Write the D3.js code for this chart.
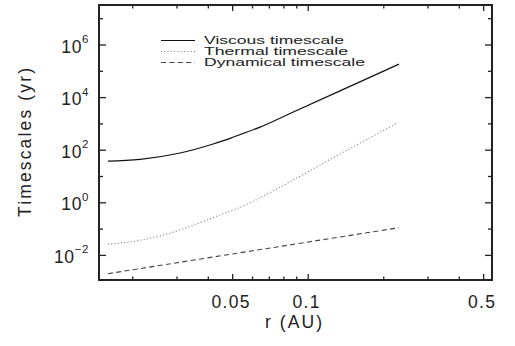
<!DOCTYPE html>
<html>
<head>
<meta charset="utf-8">
<script src="https://cdn.jsdelivr.net/npm/d3@7"></script>
<style>
  body { margin: 0; background: #fff; }
  svg { display: block; }
  text { font-family: "Liberation Sans", Arial, sans-serif; fill: #222; }
</style>
</head>
<body>
<div class="chart"></div>
<script>
// radius (AU) and timescales (yr)
const viscousR = [0.016, 0.0215, 0.031, 0.042, 0.05, 0.0646, 0.085, 0.1345, 0.231];
const viscousT = [37, 43, 75, 165, 290, 725, 2380, 17300, 1.8e5];

const thermalR = [0.016, 0.0215, 0.031, 0.0448, 0.0634, 0.1226, 0.229];
const thermalT = [0.0253, 0.0359, 0.0885, 0.329, 1.35, 42, 1070];

const dynamicalR = [0.016, 0.049, 0.231];
const dynamicalT = [0.00193, 0.0105, 0.108];

const xMajor = [0.05, 0.1, 0.5];
const xMinor = [0.02, 0.03, 0.04, 0.06, 0.07, 0.08, 0.09, 0.2, 0.3, 0.4];
const yMajor = [1e-2, 1e0, 1e2, 1e4, 1e6];
const yMinor = [1e-1, 1e1, 1e3, 1e5, 1e7];
const yLabelExp = ["\u22122", "0", "2", "4", "6"];

const legendNames = ["Viscous timescale", "Thermal timescale", "Dynamical timescale"];

// === Margin Convention ===
const margin = ({top: 5, right: 23, bottom: 66, left: 99});
const width = 515 - margin.left - margin.right,
      height = 346 - margin.top - margin.bottom;

const svg = d3.select(".chart").append("svg")
    .attr("width", 515)
    .attr("height", 346)
  .append("g")
    .attr("transform", `translate(${margin.left},${margin.top})`);

// === Scales ===
const xScale = d3.scaleLog()
    .domain([0.01474, 0.5423])
    .range([0, width]);

const yScale = d3.scaleLog()
    .domain([1.11e-3, 3.18e7])
    .range([height, 0]);

// === Ticks (all four sides, pointing in) ===
function ticks(axis, values, size, transform) {
    const g = svg.append("g")
        .attr("transform", transform)
        .call(axis.tickValues(values).tickSize(size).tickFormat(""));
    g.select(".domain").remove();
    g.selectAll("line").attr("stroke", "#222").attr("stroke-width", 1.3);
}

ticks(d3.axisBottom(xScale), xMajor, -6, `translate(0,${height})`);
ticks(d3.axisBottom(xScale), xMinor, -3.5, `translate(0,${height})`);
ticks(d3.axisTop(xScale), xMajor, -6, "translate(0,0)");
ticks(d3.axisTop(xScale), xMinor, -3.5, "translate(0,0)");
ticks(d3.axisLeft(yScale), yMajor, -7, "translate(0,0)");
ticks(d3.axisLeft(yScale), yMinor, -4, "translate(0,0)");
ticks(d3.axisRight(yScale), yMajor, -7, `translate(${width},0)`);
ticks(d3.axisRight(yScale), yMinor, -4, `translate(${width},0)`);

// frame
svg.append("rect")
    .attr("width", width)
    .attr("height", height)
    .attr("fill", "none")
    .attr("stroke", "#222")
    .attr("stroke-width", 2);

// x tick labels
svg.selectAll(".xlab")
    .data(xMajor)
    .join("text")
    .attr("class", "xlab")
    .attr("x", d => xScale(d) - 1)
    .attr("y", height + 28)
    .attr("text-anchor", "middle")
    .attr("font-size", "17.5px")
    .attr("letter-spacing", "1.3px")
    .text(d => d);

// y tick labels: 10^n
const ylab = svg.selectAll(".ylab")
    .data(yMajor)
    .join("text")
    .attr("class", "ylab")
    .attr("x", -10)
    .attr("y", d => yScale(d) + 8)
    .attr("text-anchor", "end")
    .attr("font-size", "17.5px")
    .attr("letter-spacing", "0.6px");
ylab.append("tspan").text("10");
ylab.append("tspan")
    .attr("dy", -9.5)
    .attr("font-size", "11.5px")
    .text((d, i) => yLabelExp[i]);

// axis titles
svg.append("text")
    .attr("x", width / 2 - 2)
    .attr("y", height + 48)
    .attr("text-anchor", "middle")
    .attr("font-size", "17.5px")
    .attr("textLength", 57)
    .attr("lengthAdjust", "spacing")
    .text("r  (AU)");

svg.append("text")
    .attr("transform", `translate(${31 - margin.left},${142.5 - margin.top}) rotate(-90)`)
    .attr("text-anchor", "middle")
    .attr("font-size", "17.5px")
    .attr("textLength", 149)
    .attr("lengthAdjust", "spacing")
    .text("Timescales  (yr)");

// === Curves ===
const line = d3.line()
    .x(d => xScale(d[0]))
    .y(d => yScale(d[1]))
    .curve(d3.curveNatural);

const styles = [
    {color: "#111", dash: null, w: 1.2},
    {color: "#777", dash: "1,2.3", w: 1.1},
    {color: "#444", dash: "5,3.4", w: 1.1}
];

const series = [
    d3.zip(viscousR, viscousT),
    d3.zip(thermalR, thermalT),
    d3.zip(dynamicalR, dynamicalT)
];

series.forEach((s, i) => {
    svg.append("path")
        .datum(s)
        .attr("fill", "none")
        .attr("stroke", styles[i].color)
        .attr("stroke-width", styles[i].w)
        .attr("stroke-dasharray", styles[i].dash)
        .attr("d", line);
});

// === Legend ===
const legendX = 161 - margin.left;
const legendY = 40.5 - margin.top;
const legendWidths = [140, 144, 161];

const legend = svg.append("g").attr("class", "legend");
legendNames.forEach((name, i) => {
    legend.append("line")
        .attr("x1", legendX)
        .attr("x2", legendX + 34)
        .attr("y1", legendY + i * 11)
        .attr("y2", legendY + i * 11)
        .attr("stroke", styles[i].color)
        .attr("stroke-width", 1.1)
        .attr("stroke-dasharray", styles[i].dash);
    legend.append("text")
        .attr("x", legendX + 43)
        .attr("y", legendY + i * 11 + 3.6)
        .attr("font-size", "11.5px")
        .attr("fill", "#333")
        .attr("textLength", legendWidths[i])
        .attr("lengthAdjust", "spacingAndGlyphs")
        .text(name);
});
</script>
</body>
</html>
